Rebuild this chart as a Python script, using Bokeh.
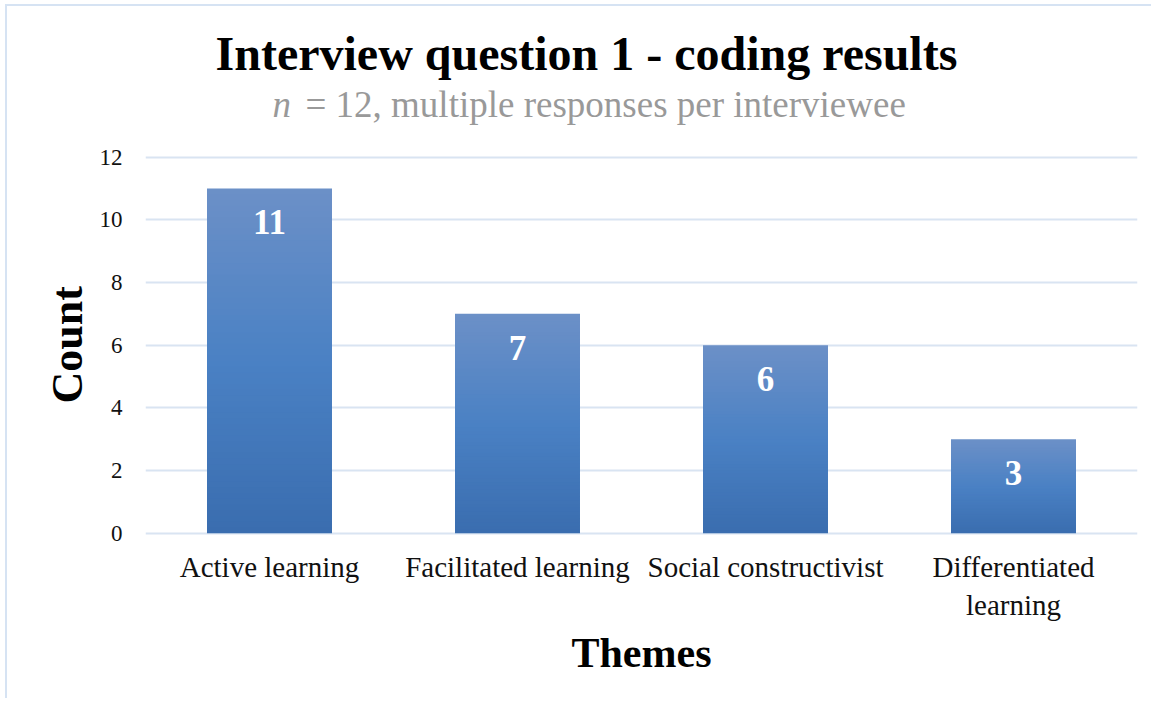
from bokeh.plotting import figure
from bokeh.models import Range1d, FactorRange, FixedTicker, Label, Title
from bokeh.embed import file_html
from bokeh.resources import INLINE
from bokeh.core.properties import value

# ---- data ----
categories = ["Active learning", "Facilitated learning", "Social constructivist", "Differentiated\nlearning"]
counts = [11, 7, 6, 3]
y_ticks = [0, 2, 4, 6, 8, 10, 12]
title_text = "Interview question 1 - coding results"
subtitle_n = "n"
subtitle_rest = "= 12, multiple responses per interviewee"
x_title = "Themes"
y_title = "Count"

# ---- styling ----
SERIF = "Liberation Serif"
W, H = 1146, 694
BORDER = "#d6e3f3"

p = figure(
    x_range=FactorRange(factors=categories),
    y_range=Range1d(-0.1, 16.8),
    width=W, height=H,
    output_backend="svg", toolbar_location=None, title_location=None,
    min_border_left=138, min_border_right=16,
    min_border_top=0, min_border_bottom=164,
)
p.styles = {"border-left": f"2px solid {BORDER}", "border-top": f"2px solid {BORDER}",
            "margin-left": "5px", "margin-top": "4px"}
p.outline_line_color = None
p.background_fill_color = "white"
p.border_fill_color = "white"

# gradient bars built as thin slices of each bar
stops = [(0.0, (58, 109, 175)), (0.5, (74, 129, 196)), (1.0, (108, 144, 199))]


def interp(f):
    for (f0, c0), (f1, c1) in zip(stops[:-1], stops[1:]):
        if f <= f1:
            t = (f - f0) / (f1 - f0)
            r, g, b = (round(a + (bb - a) * t) for a, bb in zip(c0, c1))
            return "#%02x%02x%02x" % (r, g, b)
    r, g, b = stops[-1][1]
    return "#%02x%02x%02x" % (r, g, b)


N = 60
xs, bots, tops, cols = [], [], [], []
for c, v in zip(categories, counts):
    for i in range(N):
        f0, f1 = i / N, (i + 1) / N
        xs.append(c)
        bots.append(v * f0)
        tops.append(min(v, v * f1 + 0.03))
        cols.append(interp((f0 + f1) / 2))
p.vbar(x=xs, bottom=bots, top=tops, width=0.504, fill_color=cols, line_color=None)

# value labels inside bars
p.text(x=categories, y=counts, text=[str(v) for v in counts], text_color="white",
       text_font=value(SERIF), text_font_style="bold", text_font_size="35px",
       text_align="center", text_baseline="alphabetic", y_offset=34)

# axes
p.yaxis.ticker = FixedTicker(ticks=y_ticks)
for ax in (p.xaxis[0], p.yaxis[0]):
    ax.axis_line_color = None
    ax.major_tick_line_color = None
    ax.minor_tick_line_color = None
    ax.major_tick_out = 0
    ax.major_tick_in = 0
    ax.minor_tick_out = 0
    ax.major_label_text_font = SERIF
    ax.major_label_text_color = "#111111"
    ax.axis_label_text_font = SERIF
    ax.axis_label_text_font_style = "bold"
    ax.axis_label_text_color = "black"
p.yaxis.major_label_standoff = 23
p.yaxis.major_label_text_font_size = "23px"
p.xaxis.major_label_standoff = 14
p.xaxis.major_label_text_font_size = "29px"
p.xaxis.axis_label = x_title
p.xaxis.axis_label_text_font_size = "42px"
p.xaxis.axis_label_standoff = 6

# y-axis title as a side title, anchored from the bottom of the frame
p.add_layout(Title(text=y_title, text_font=SERIF, text_font_style="bold", text_font_size="44px",
                   text_color="black", align="left", offset=133, standoff=10), "left")

p.xgrid.grid_line_color = None
p.ygrid.grid_line_color = "#d9e4f2"
p.ygrid.grid_line_width = 2

# title and subtitle drawn inside the (extended) frame, in data units
p.add_layout(Label(x=1.778, y=15.29, text=title_text, text_font=SERIF, text_font_style="bold",
                   text_font_size="48px", text_align="center", text_baseline="alphabetic",
                   text_color="black"))
p.add_layout(Label(x=0.512, y=13.66, text=subtitle_n, text_font=SERIF, text_font_style="italic",
                   text_font_size="37px", text_align="left", text_baseline="alphabetic",
                   text_color="#999999"))
p.add_layout(Label(x=0.512, y=13.66, x_offset=33, text=subtitle_rest, text_font=SERIF,
                   text_font_size="37px", text_align="left", text_baseline="alphabetic",
                   text_color="#999999"))

open("out.html", "w").write(file_html(p, INLINE))
